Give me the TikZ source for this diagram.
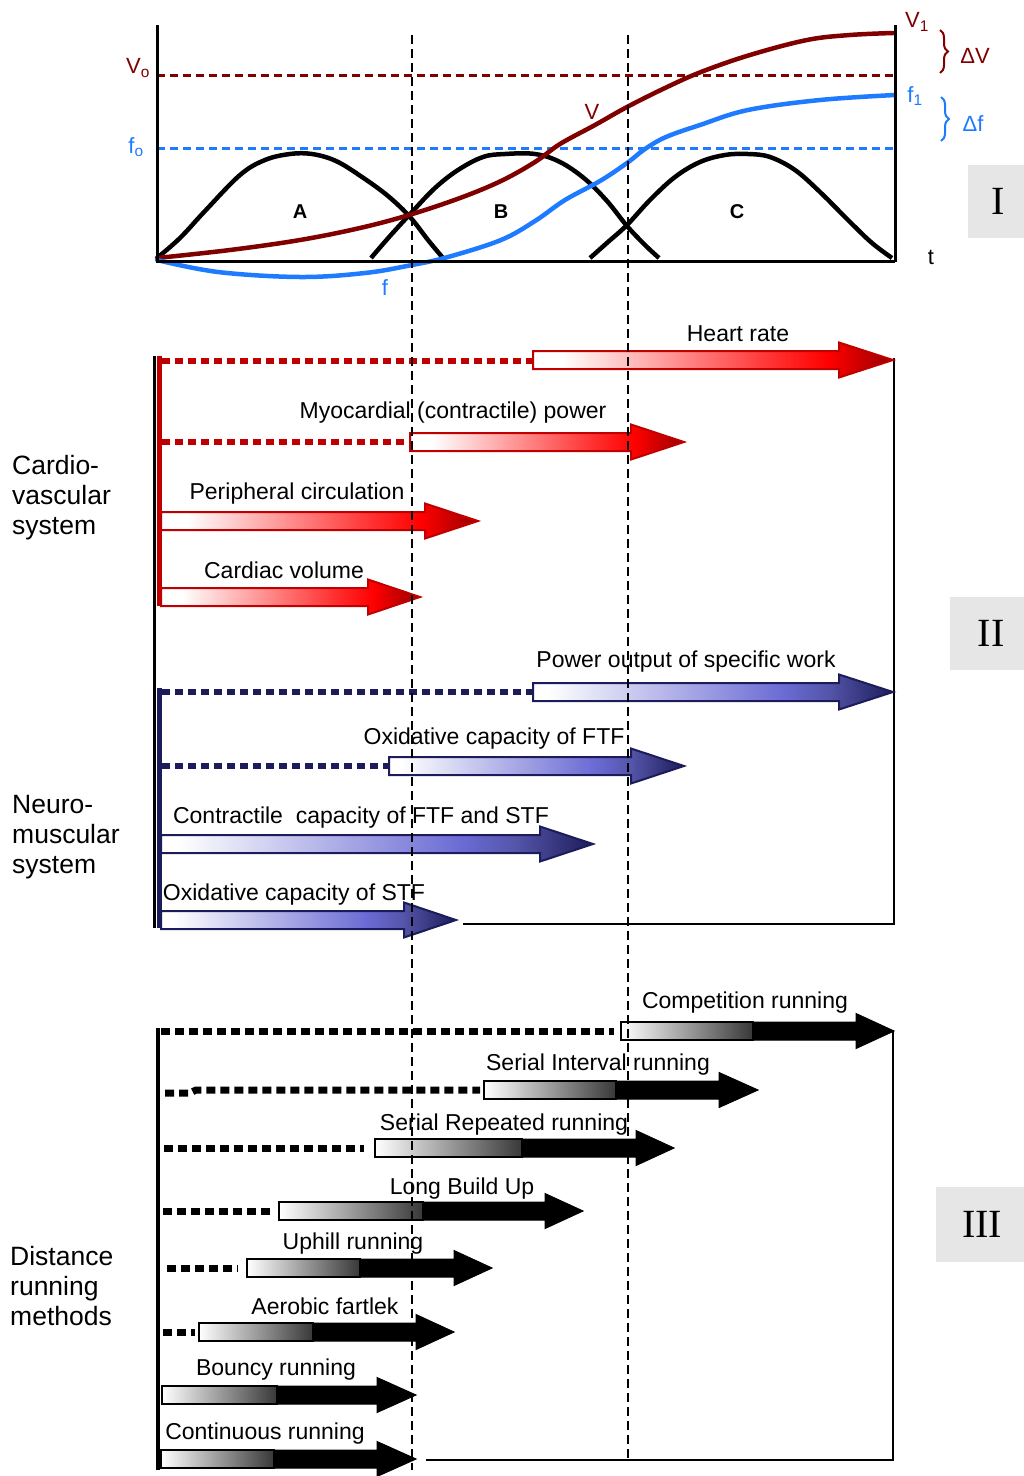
\documentclass[tikz,border=0pt]{standalone}
\usepackage{fontspec}
\setmainfont{Liberation Sans}
\newfontfamily\romanfont{Liberation Serif}
\usetikzlibrary{decorations.pathreplacing}
\definecolor{vred}{HTML}{800000}
\definecolor{fblue}{HTML}{1E7BFF}
\definecolor{arred}{HTML}{C00000}
\definecolor{arnavy}{HTML}{1C1C5A}
\definecolor{navymid}{HTML}{6A6AD4}
\definecolor{boxgray}{HTML}{E6E6E6}
\definecolor{darkarred}{HTML}{980000}
\pgfdeclarehorizontalshading{redarr}{100bp}{color(0bp)=(white); color(29bp)=(white); color(58bp)=(red!80!white); color(66bp)=(red); color(75bp)=(darkarred); color(100bp)=(darkarred)}
\pgfdeclarehorizontalshading{navyarr}{100bp}{color(0bp)=(white); color(27bp)=(white); color(60bp)=(navymid); color(66bp)=(navymid!80!black); color(75bp)=(arnavy); color(100bp)=(arnavy)}
\newcommand{\harrowshape}[6]{% style, x1, xh, x2, y
  \path[#1] (#2,#5-9) -- (#3,#5-9) -- (#3,#5-17.5) -- (#4,#5) -- (#3,#5+17.5) -- (#3,#5+9) -- (#2,#5+9) -- cycle;}
\begin{document}
\begin{tikzpicture}[x=1pt,y=-1pt,
  lbl/.style={font=\fontsize{23}{27}\selectfont, inner sep=0pt, anchor=base},
  sidelbl/.style={font=\fontsize{26.5}{30}\selectfont, inner sep=0pt, anchor=base west, align=left},
  roman/.style={font=\romanfont\fontsize{40}{44}\selectfont, inner sep=0pt},
  romanbox/.style={fill=boxgray, draw=none},
  grlbl/.style={font=\fontsize{22}{26}\selectfont, inner sep=0pt},
  abc/.style={font=\bfseries\fontsize{20}{24}\selectfont, inner sep=0pt},
  axis/.style={line width=3pt, black},
  bell/.style={line width=4.5pt, black, line join=round},
  refdash/.style={line width=3pt, dash pattern=on 8pt off 5pt},
  vdash/.style={line width=2pt, black, dash pattern=on 9pt off 5pt},
  reddot/.style={line width=6pt, arred, dash pattern=on 8pt off 5pt},
  navydot/.style={line width=6pt, arnavy, dash pattern=on 8pt off 5pt},
  blackdot/.style={line width=7pt, black, dash pattern=on 9pt off 5pt},
  redarrow/.style={shading=redarr, draw=arred, line width=2pt},
  navyarrow/.style={shading=navyarr, draw=arnavy, line width=2pt},
  blackarrow/.style={fill=black, draw=black, line width=1pt},
  graybox/.style={left color=white, right color=black!78, draw=black, line width=2.5pt},
  frame/.style={line width=2.5pt, black}
]
\useasboundingbox (0,0) rectangle (1024,1476);

% ================= Section I =================
\draw[refdash, vred] (157,75) -- (895,75);
\draw[refdash, fblue] (157,148) -- (895,148);

\draw[bell] plot[smooth, tension=0.6] coordinates {(157,258) (180,238) (205,211) (240,175) (265,160) (290,154) (312,154) (336,161) (362,177) (388,196) (410,217) (428,240) (443,258)};
\draw[bell] plot[smooth, tension=0.6] coordinates {(371,258) (390,236) (412,212) (435,188) (458,170) (483,157) (505,154) (535,154) (560,162) (585,179) (607,201) (627,226) (645,245) (659,258)};
\draw[bell] plot[smooth, tension=0.6] coordinates {(590,258) (608,242) (627,225) (650,200) (675,177) (700,162) (725,155) (748,154) (770,157) (795,170) (820,192) (850,222) (872,243) (892,258)};

\draw[line width=4.5pt, vred, line cap=round] plot[smooth, tension=0.6] coordinates {(157,258) (230,250) (300,240) (360,228) (409,215) (460,198) (501,181) (535,162) (560,144) (595,125) (627,107) (665,88) (701,72) (750,55) (807,40) (850,35) (893,33)};
\draw[line width=4.5pt, fblue, line cap=round] plot[smooth, tension=0.6] coordinates {(157,260) (218,272) (300,277) (365,273) (412,265) (448,257) (501,240) (535,221) (565,200) (600,181) (627,163) (645,149) (666,137) (700,125) (748,110) (820,100) (895,95)};

\draw[axis] (157,25) -- (157,261.5) -- (895,261.5);
\draw[axis] (895,25) -- (895,261.5);

\node[grlbl, text=vred] (v0) at (138,68) {V\textsubscript{o}};
\node[grlbl, text=fblue] (f0) at (136,147) {f\textsubscript{o}};
\node[grlbl, text=vred] (v1) at (917,22) {V\textsubscript{1}};
\node[grlbl, text=fblue] (f1) at (915,96) {f\textsubscript{1}};
\node[grlbl, text=vred] (vl) at (592,112) {V};
\node[grlbl, text=fblue] (fl) at (385,288) {f};
\node[grlbl] (tl) at (931,257) {t};
\node[abc] (A) at (300,212) {A};
\node[abc] (B) at (501,212) {B};
\node[abc] (C) at (737,212) {C};
\draw[vred, line width=2pt, decorate, decoration={brace, amplitude=8pt}] (940,30) -- (940,73);
\draw[fblue, line width=2pt, decorate, decoration={brace, amplitude=8pt}] (941,97) -- (941,141);
\node[grlbl, text=vred] (dv) at (975,56) {ΔV};
\node[grlbl, text=fblue] (df) at (973,124) {Δf};

\fill[romanbox] (968,165) rectangle (1024,238);
\node[roman] (r1) at (998,201) {I};

% ================= Section II =================
\draw[line width=3pt, black] (154,356) -- (154,928);
\draw[line width=5pt, arred] (159.5,356) -- (159.5,606);
\draw[line width=5pt, arnavy] (159.5,688) -- (159.5,928);
\draw[frame] (894,358) -- (894,924) -- (463,924);

\draw[reddot] (162,361) -- (533,361);
\harrowshape{redarrow}{533}{839}{893}{360}{hr}
\draw[reddot] (162,442) -- (408,442);
\harrowshape{redarrow}{410}{631}{684}{442}{myo}
\harrowshape{redarrow}{161}{425}{478}{521}{per}
\harrowshape{redarrow}{161}{368}{420}{597}{car}

\draw[navydot] (162,692) -- (533,692);
\harrowshape{navyarrow}{533}{839}{893}{692}{pow}
\draw[navydot] (162,766) -- (388,766);
\harrowshape{navyarrow}{389}{631}{684}{766}{oxf}
\harrowshape{navyarrow}{161}{540}{593}{844}{con}
\harrowshape{navyarrow}{161}{404}{456}{920}{oxs}

\node[lbl] (lhr) at (738,341) {Heart rate};
\node[lbl] (lmyo) at (453,418) {Myocardial (contractile) power};
\node[lbl] (lper) at (297,499) {Peripheral circulation};
\node[lbl] (lcar) at (284,578) {Cardiac volume};
\node[lbl] (lpow) at (686,667) {Power output of specific work};
\node[lbl] (loxf) at (494,744) {Oxidative capacity of FTF};
\node[lbl] (lcon) at (361,823) {Contractile \ capacity of FTF and STF};
\node[lbl] (loxs) at (294,900) {Oxidative capacity of STF};

\node[sidelbl] (cvs) at (12,534) {Cardio-\\vascular\\system};
\node[sidelbl] (nms) at (12,873) {Neuro-\\muscular\\system};

\fill[romanbox] (950,597) rectangle (1024,670);
\node[roman] (r2) at (991,633) {II};

% ================= Section III =================
\draw[line width=4pt, black] (158,1028) -- (158,1470);
\draw[frame] (893,1030) -- (893,1460) -- (426,1460);

\draw[blackdot] (161,1031) -- (614,1031);
\harrowshape{blackarrow}{753}{856}{894}{1031}{}
\draw[graybox] (621,1022) rectangle (753,1040);

\draw[blackdot] (165,1093) -- (190,1093) -- (196,1090) -- (480,1090);
\harrowshape{blackarrow}{616}{719}{758}{1090}{}
\draw[graybox] (484,1081) rectangle (616,1099);

\draw[blackdot] (164,1148) -- (364,1148);
\harrowshape{blackarrow}{522}{636}{674}{1148}{}
\draw[graybox] (375,1139) rectangle (522,1157);

\draw[blackdot] (163,1211) -- (272,1211);
\harrowshape{blackarrow}{423}{545}{583}{1211}{}
\draw[graybox] (279,1202) rectangle (423,1220);

\draw[blackdot] (167,1268) -- (238,1268);
\harrowshape{blackarrow}{360}{454}{492}{1268}{}
\draw[graybox] (247,1259) rectangle (360,1277);

\draw[blackdot] (163,1332) -- (195,1332);
\harrowshape{blackarrow}{313}{416}{454}{1332}{}
\draw[graybox] (199,1323) rectangle (313,1341);

\harrowshape{blackarrow}{277}{377}{416}{1395}{}
\draw[graybox] (162,1386) rectangle (277,1404);

\harrowshape{blackarrow}{274}{377}{416}{1459}{}
\draw[graybox] (161,1450) rectangle (274,1468);

\node[lbl] (lcomp) at (745,1008) {Competition running};
\node[lbl] (lsi) at (598,1070) {Serial Interval running};
\node[lbl] (lsr) at (504,1130) {Serial Repeated running};
\node[lbl] (llbu) at (462,1194) {Long Build Up};
\node[lbl] (lup) at (353,1249) {Uphill running};
\node[lbl] (laf) at (325,1314) {Aerobic fartlek};
\node[lbl] (lbr) at (276,1375) {Bouncy running};
\node[lbl] (lcr) at (265,1439) {Continuous running};

\node[sidelbl] (drm) at (10,1325) {Distance\\running\\methods};

\fill[romanbox] (936,1187) rectangle (1024,1262);
\node[roman] (r3) at (982,1224) {III};

% ================= phase boundaries =================
\draw[vdash] (412,35) -- (412,1470);
\draw[vdash] (628,35) -- (628,1460);
\end{tikzpicture}
\end{document}
